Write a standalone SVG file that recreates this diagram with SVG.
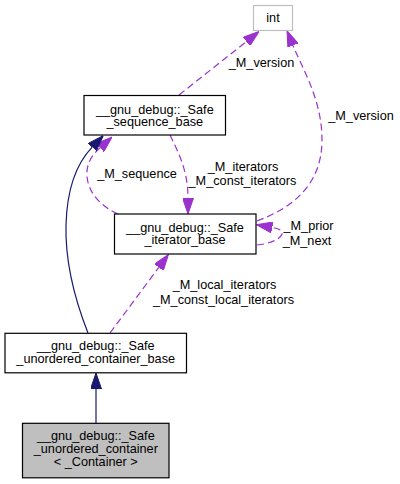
<svg xmlns="http://www.w3.org/2000/svg" width="400" height="484" viewBox="0 0 400 484">
<style>
  text { font-family: "Liberation Sans", Arial, Helvetica, sans-serif; font-size: 12.7px; fill: #000; text-anchor: middle; }
  .box { fill: #fff; stroke: #000; stroke-width: 1.2; }
  .grey { fill: #bfbfbf; }
  .lite { stroke: #bfbfbf; }
  .inh { fill: none; stroke: #191970; stroke-width: 1.2; }
  .use { fill: none; stroke: #9a32cd; stroke-width: 1.2; stroke-dasharray: 7,4; }
</style>
<defs>
  <marker id="ah-navy" viewBox="0 0 16 11" refX="0" refY="5.5" markerWidth="16" markerHeight="11" markerUnits="userSpaceOnUse" orient="auto">
    <path d="M0,0 L16,5.5 L0,11 z" fill="#191970" stroke="#191970" stroke-width="1"/>
  </marker>
  <marker id="ah-purple" viewBox="0 0 16 11" refX="0" refY="5.5" markerWidth="16" markerHeight="11" markerUnits="userSpaceOnUse" orient="auto">
    <path d="M0,0 L16,5.5 L0,11 z" fill="#9a32cd" stroke="#9a32cd" stroke-width="1"/>
  </marker>
</defs>

<g id="connectors">
  <path class="use" d="M179,95 L246.5,41.5" marker-end="url(#ah-purple)"/>
  <text x="261.5" y="66.5">_M_version</text>

  <path class="use" d="M257,221 C292,208 322,185 322,140 C322,100 303,70 293,45.4" marker-end="url(#ah-purple)"/>
  <text x="361" y="119.5">_M_version</text>

  <path class="use" d="M170,135 C178,152 188,170 188,198" marker-end="url(#ah-purple)"/>
  <text x="243" y="170.5">_M_iterators</text>
  <text x="242.5" y="184.5">_M_const_iterators</text>

  <path class="use" d="M118,214 C100,206 88,192 87,176 C86,163 93,154 100.1,147.7" marker-end="url(#ah-purple)"/>
  <text x="137" y="177.5">_M_sequence</text>

  <path class="inh" d="M88,333 C75,300 65,265 66,225 C67,188 76,164 92.2,147.2" marker-end="url(#ah-navy)"/>

  <path class="use" d="M257,245 C268,244 280,240 282,234 C283,230 278,228.5 272.2,227.5" marker-end="url(#ah-purple)"/>
  <text x="308.5" y="229.5">_M_prior</text>
  <text x="307" y="244.5">_M_next</text>

  <path class="use" d="M110,333 L158.9,267.3" marker-end="url(#ah-purple)"/>
  <text x="224.5" y="289">_M_local_iterators</text>
  <text x="223.5" y="304">_M_const_local_iterators</text>

  <path class="inh" d="M96,423 L96,389" marker-end="url(#ah-navy)"/>
</g>

<g id="node-int">
  <rect class="box lite" x="253.5" y="5.5" width="39" height="25"/>
  <text x="273" y="21.5">int</text>
</g>

<g id="node-safe-sequence-base">
  <rect class="box" x="84" y="95.5" width="141.5" height="39.5"/>
  <text x="154.8" y="113.5">__gnu_debug::_Safe</text>
  <text x="154.8" y="126">_sequence_base</text>
</g>

<g id="node-safe-iterator-base">
  <rect class="box" x="114.5" y="214" width="141.5" height="40"/>
  <text x="185" y="231.5">__gnu_debug::_Safe</text>
  <text x="185" y="244">_iterator_base</text>
</g>

<g id="node-safe-unordered-container-base">
  <rect class="box" x="5" y="333.3" width="181.5" height="39.5"/>
  <text x="95.7" y="350">__gnu_debug::_Safe</text>
  <text x="95.7" y="362.5">_unordered_container_base</text>
</g>

<g id="node-safe-unordered-container">
  <rect class="box grey" x="22.5" y="423.3" width="146.5" height="54.5"/>
  <text x="95.8" y="439.5">__gnu_debug::_Safe</text>
  <text x="95.8" y="452.5">_unordered_container</text>
  <text x="95.8" y="465.5">&lt; _Container &gt;</text>
</g>
</svg>
